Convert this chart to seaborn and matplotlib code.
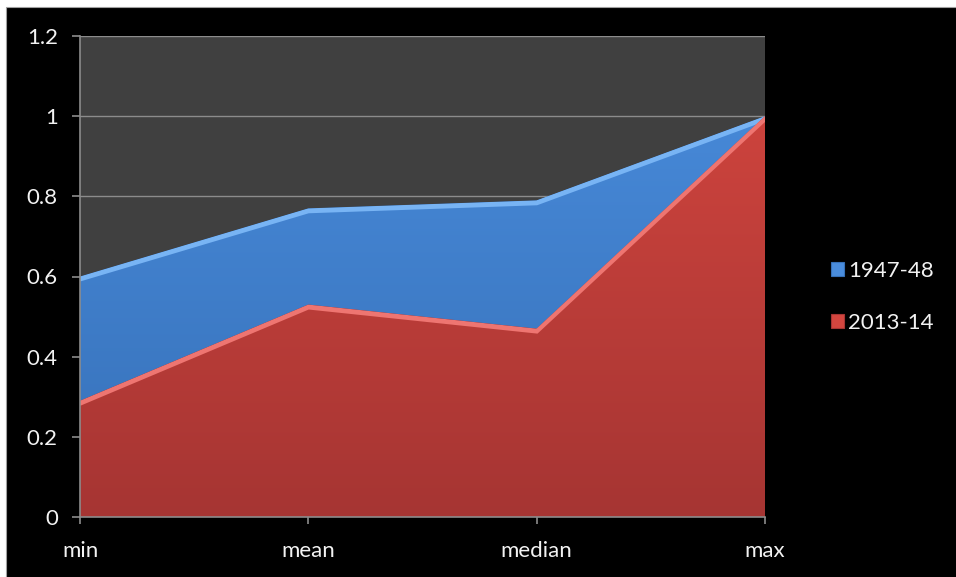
import numpy as np
import pandas as pd
import matplotlib
matplotlib.use("Agg")
import matplotlib.pyplot as plt
import matplotlib.transforms as mtransforms
from matplotlib.patches import Rectangle, Patch
from matplotlib.colors import LinearSegmentedColormap
import seaborn as sns

# Summary statistics of the two periods
categories = ["min", "mean", "median", "max"]
series_1947 = [0.60, 0.77, 0.79, 1.00]
series_2013 = [0.29, 0.53, 0.47, 1.00]
series_names = ["1947-48", "2013-14"]
y_ticks = [0, 0.2, 0.4, 0.6, 0.8, 1, 1.2]
y_tick_labels = ["0", "0.2", "0.4", "0.6", "0.8", "1", "1.2"]

sns.set_theme(style="dark")
plt.rcParams["font.family"] = ["Lato", "DejaVu Sans"]

W, H = 956, 577
fig = plt.figure(figsize=(W / 100, H / 100), dpi=100, facecolor="white")
# black chart canvas with a thin white page margin on the top and left
fig.patches.append(Rectangle((6 / W, -0.05), 1.1, (H - 7) / H + 0.05, transform=fig.transFigure,
                             facecolor="black", edgecolor="#a0a0a0", lw=0.8, zorder=-10))

ax = fig.add_axes([80 / W, 60 / H, 685 / W, 481 / H])
ax.set_facecolor("#404040")

df = pd.DataFrame({"stat": categories, "x": np.arange(len(categories)),
                   series_names[0]: series_1947, series_names[1]: series_2013})

styles = {
    series_names[0]: dict(top="#4a8ddd", bottom="#3670b8", hi="#78b4f4", z=2),
    series_names[1]: dict(top="#d4463f", bottom="#a63533", hi="#ee7571", z=3),
}

ax.set_xlim(0, 3)
ax.set_ylim(0, 1.2)

for name in series_names:
    st = styles[name]
    poly = ax.fill_between(df["x"], 0, df[name], facecolor="none", edgecolor="none", zorder=st["z"])
    cmap = LinearSegmentedColormap.from_list(name, [st["bottom"], st["top"]])
    grad = np.linspace(0, 1, 256).reshape(-1, 1)
    img = ax.imshow(grad, cmap=cmap, origin="lower", extent=[0, 3, 0, 1.2],
                    aspect="auto", zorder=st["z"], interpolation="bicubic")
    img.set_clip_path(poly.get_paths()[0], transform=ax.transData)
    # bevelled highlight along the top edge
    hl_tr = mtransforms.offset_copy(ax.transData, fig=fig, x=0, y=-2.5, units="dots")
    sns.lineplot(data=df, x="x", y=name, ax=ax, color=st["hi"], lw=3.5,
                 zorder=st["z"] + 0.1, transform=hl_tr, legend=False)
    ax.lines[-1].set_solid_joinstyle("miter")
    ax.lines[-1].set_clip_path(poly.get_paths()[0], transform=ax.transData)

ax.set_yticks(y_ticks)
ax.set_yticklabels(y_tick_labels)
ax.set_xticks(df["x"])
ax.set_xticklabels(categories)
ax.set_xlabel("")
ax.set_ylabel("")
ax.grid(axis="y", color="#8c8c8c", lw=1.0)
ax.grid(axis="x", visible=False)
ax.set_axisbelow(True)

for side in ["top", "right"]:
    ax.spines[side].set_visible(False)
for side in ["left", "bottom"]:
    ax.spines[side].set_visible(True)
    ax.spines[side].set_color("#8c8c8c")
    ax.spines[side].set_linewidth(1.2)
    ax.spines[side].set_zorder(5)

ax.tick_params(axis="y", length=6, width=1.2, color="#8c8c8c", pad=10,
               labelsize=16, labelcolor="#f2f2f2", left=True)
ax.tick_params(axis="x", length=5, width=1.2, color="#8c8c8c", pad=12,
               labelsize=16, labelcolor="#f2f2f2", bottom=True)

handles = [Patch(facecolor=styles[n]["top"], edgecolor=styles[n]["bottom"], lw=0.8) for n in series_names]
leg = fig.legend(handles, series_names, loc="center left",
                 bbox_to_anchor=(820 / W, (H - 297) / H), frameon=False,
                 fontsize=16, labelcolor="#f2f2f2", handlelength=0.6, handleheight=0.6,
                 handletextpad=0.15, labelspacing=1.45, borderpad=0)

fig.savefig("out.png", dpi=100, facecolor=fig.get_facecolor())
